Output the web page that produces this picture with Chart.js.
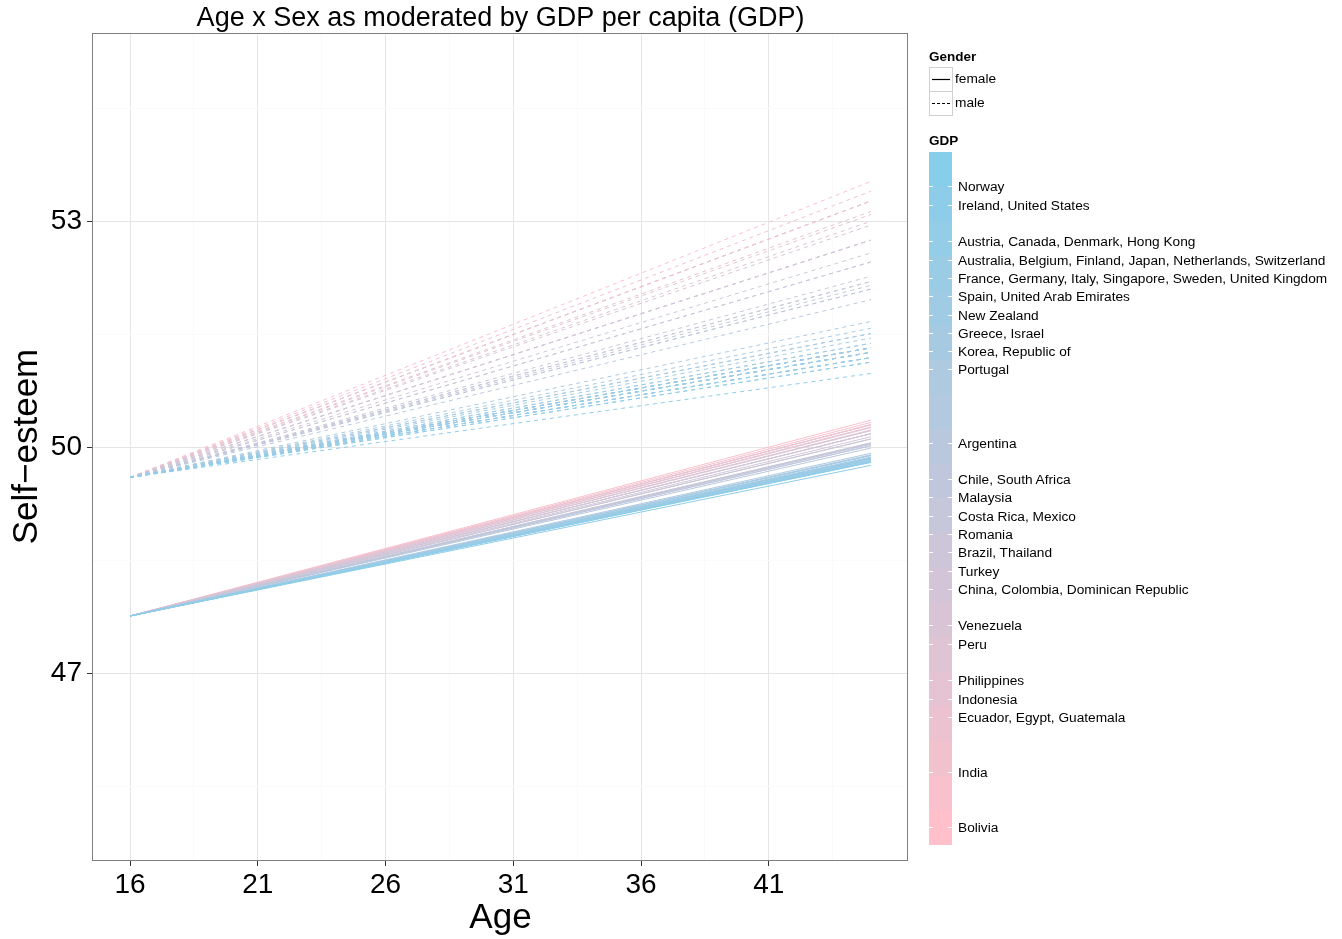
<!DOCTYPE html>
<html>
<head>
<meta charset="utf-8">
<script src="https://cdn.jsdelivr.net/npm/chart.js@4"></script>
<style>
  body { margin: 0; background: #fff; }
  #wrap { position: relative; width: 1342px; height: 939px; font-family: "Liberation Sans", Arial, Helvetica, sans-serif; }
  #c { position: absolute; left: 0; top: 0; }
  .lg { position: absolute; font-size: 13.7px; line-height: 16px; color: #000; white-space: nowrap; }
  .lg b { font-weight: bold; font-size: 13.5px; }
  .key { position: absolute; left: 929px; width: 22px; height: 23px; border: 1px solid #d0d0d0; background: #fff; }
  #bar { position: absolute; left: 929px; top: 152px; width: 23px; height: 693px; }
  .tk { position: absolute; height: 1px; width: 4px; background: #fff; }
</style>
</head>
<body>
<div id="wrap">
  <canvas id="c" width="1342" height="939"></canvas>
  <div id="legend"></div>
</div>
<script>
// ages on x
const ageRange = [16, 45];
const xTicks = [16, 21, 26, 31, 36, 41];
const xMinor = [18.5, 23.5, 28.5, 33.5, 38.5, 43.5];
const yTicks = [47, 50, 53];
const yMinor = [45.5, 48.5, 51.5, 54.5];

// every line starts at the same value for its gender
const femaleStart = 47.76;
const maleStart = 49.60;

// GDP legend groups (top = highest GDP)
const gdpGroups = [
    'Norway',
    'Ireland, United States',
    'Austria, Canada, Denmark, Hong Kong',
    'Australia, Belgium, Finland, Japan, Netherlands, Switzerland',
    'France, Germany, Italy, Singapore, Sweden, United Kingdom',
    'Spain, United Arab Emirates',
    'New Zealand',
    'Greece, Israel',
    'Korea, Republic of',
    'Portugal',
    'Argentina',
    'Chile, South Africa',
    'Malaysia',
    'Costa Rica, Mexico',
    'Romania',
    'Brazil, Thailand',
    'Turkey',
    'China, Colombia, Dominican Republic',
    'Venezuela',
    'Peru',
    'Philippines',
    'Indonesia',
    'Ecuador, Egypt, Guatemala',
    'India',
    'Bolivia'
];
const countryCount = [1, 2, 4, 6, 6, 2, 1, 2, 1, 1, 1, 2, 1, 2, 1, 2, 1, 3, 1, 1, 1, 1, 3, 1, 1];
const gdpLevel = [35, 34, 32, 31, 30, 29, 28, 27, 26, 25, 21, 19, 18, 17, 16, 15, 14, 13, 11, 10, 8, 7, 6, 3, 0];
const gdpMin = -0.98, gdpMax = 36.91;

// self-esteem at age 45
const femaleEnd = [49.76, 49.80, 49.81, 49.83, 49.85, 49.86, 49.87, 49.89, 49.90, 49.92, 49.99, 50.02, 50.04, 50.05, 50.06,
    50.11, 50.14, 50.18, 50.22, 50.23, 50.26, 50.27, 50.30, 50.33, 50.36];
const maleEnd = [50.98, 51.13, 51.19, 51.26, 51.32, 51.38, 51.45, 51.51, 51.58, 51.67, 51.96, 52.10, 52.15, 52.20, 52.27,
    52.46, 52.58, 52.75, 52.95, 53.00, 53.09, 53.13, 53.27, 53.40, 53.53];

const FONT = '"Liberation Sans", Arial, Helvetica, sans-serif';
const lowCol = [255, 192, 203];   // pink
const highCol = [135, 206, 235];  // skyblue

function gdpColour(level) {
    const t = Math.max(0, Math.min(1, (level - gdpMin) / (gdpMax - gdpMin)));
    const c = lowCol.map((v, i) => Math.round(v + (highCol[i] - v) * t));
    return `rgb(${c[0]}, ${c[1]}, ${c[2]})`;
}

// one female and one male line per country
const datasets = [];
gdpGroups.forEach((g, i) => {
    const col = gdpColour(gdpLevel[i]);
    for (let k = 0; k < countryCount[i]; k++) {
        datasets.push({
            data: [{x: ageRange[0], y: femaleStart}, {x: ageRange[1], y: femaleEnd[i]}],
            borderColor: col, borderWidth: 1, pointRadius: 0, fill: false
        });
        datasets.push({
            data: [{x: ageRange[0], y: maleStart}, {x: ageRange[1], y: maleEnd[i]}],
            borderColor: col, borderWidth: 1, borderDash: [4, 4], pointRadius: 0, fill: false
        });
    }
});

const panelPlugin = {
    id: 'panel',
    afterDraw(chart) {
        const {ctx, chartArea: a} = chart;
        ctx.save();
        ctx.strokeStyle = '#7f7f7f';
        ctx.lineWidth = 1;
        ctx.strokeRect(a.left - 0.5, a.top + 0.5, a.right - a.left, a.bottom - a.top);
        ctx.fillStyle = '#000';
        ctx.font = '27px ' + FONT;
        ctx.textAlign = 'center';
        ctx.textBaseline = 'middle';
        ctx.fillText('Age x Sex as moderated by GDP per capita (GDP)', (a.left + a.right) / 2, 19);
        ctx.restore();
    }
};

const isMajorX = v => xTicks.includes(v);
const isMajorY = v => yTicks.includes(v);

new Chart(document.getElementById('c'), {
    type: 'line',
    data: {datasets},
    plugins: [panelPlugin],
    options: {
        responsive: false,
        animation: false,
        layout: {padding: {left: 0, right: 434, top: 33, bottom: 0}},
        plugins: {legend: {display: false}, tooltip: {enabled: false}},
        elements: {line: {tension: 0}},
        scales: {
            x: {
                type: 'linear', min: 14.55, max: 46.45,
                afterBuildTicks: s => { s.ticks = xTicks.concat(xMinor).sort((a, b) => a - b).map(v => ({value: v})); },
                afterFit: s => { s.height = 79; },
                border: {display: false},
                grid: {
                    color: c => isMajorX(c.tick.value) ? '#e5e5e5' : '#fafafa',
                    tickColor: c => isMajorX(c.tick.value) ? '#333' : 'rgba(0,0,0,0)',
                    tickLength: 6, lineWidth: 1
                },
                ticks: {
                    autoSkip: false, maxRotation: 0, padding: 2, color: '#000',
                    font: {size: 28, family: FONT},
                    callback: v => isMajorX(v) ? String(v) : ''
                },
                title: {display: true, text: 'Age', color: '#000', font: {size: 35, family: FONT}, padding: {top: 0, bottom: 0}}
            },
            y: {
                type: 'linear', min: 44.52, max: 55.5,
                afterBuildTicks: s => { s.ticks = yTicks.concat(yMinor).sort((a, b) => a - b).map(v => ({value: v})); },
                afterFit: s => { s.width = 93; },
                border: {display: false},
                grid: {
                    color: c => isMajorY(c.tick.value) ? '#e5e5e5' : '#fafafa',
                    tickColor: c => isMajorY(c.tick.value) ? '#333' : 'rgba(0,0,0,0)',
                    tickLength: 6, lineWidth: 1
                },
                ticks: {
                    autoSkip: false, padding: 5, color: '#000',
                    font: {size: 28, family: FONT},
                    callback: v => isMajorY(v) ? String(v) : ''
                },
                title: {display: true, text: 'Self\u2212esteem', color: '#000', font: {size: 35, family: FONT}, padding: {top: 6, bottom: 0}}
            }
        }
    }
});

// legend: gender keys and GDP colour bar
const lg = document.getElementById('legend');
let html = '';
html += '<div class="lg" style="left:929px;top:49px"><b>Gender</b></div>';
html += '<div class="key" style="top:67px"><svg width="22" height="23"><line x1="2" y1="11.5" x2="20" y2="11.5" stroke="#000" stroke-width="1.2"/></svg></div>';
html += '<div class="key" style="top:91px"><svg width="22" height="23"><line x1="2" y1="11.5" x2="20" y2="11.5" stroke="#000" stroke-width="1.2" stroke-dasharray="3,2"/></svg></div>';
html += '<div class="lg" style="left:955px;top:71px">female</div>';
html += '<div class="lg" style="left:955px;top:95px">male</div>';
html += '<div class="lg" style="left:929px;top:133px"><b>GDP</b></div>';

// banded colour bar (20 bins)
const nbin = 20, stops = [];
for (let b = 0; b < nbin; b++) {
    const lvl = gdpMax - (gdpMax - gdpMin) * b / (nbin - 1);
    stops.push(`${gdpColour(lvl)} ${(b * 100 / nbin).toFixed(2)}%`, `${gdpColour(lvl)} ${((b + 1) * 100 / nbin).toFixed(2)}%`);
}
html += `<div id="bar" style="background:linear-gradient(to bottom, ${stops.join(', ')})"></div>`;
gdpGroups.forEach((g, i) => {
    const y = 152 + (gdpMax - gdpLevel[i]) / (gdpMax - gdpMin) * 693;
    html += `<div class="tk" style="left:929px;top:${(y - 0.5).toFixed(1)}px"></div>`;
    html += `<div class="tk" style="left:948px;top:${(y - 0.5).toFixed(1)}px"></div>`;
    html += `<div class="lg" style="left:958px;top:${(y - 7.5).toFixed(1)}px">${g}</div>`;
});
lg.innerHTML = html;
</script>
</body>
</html>
